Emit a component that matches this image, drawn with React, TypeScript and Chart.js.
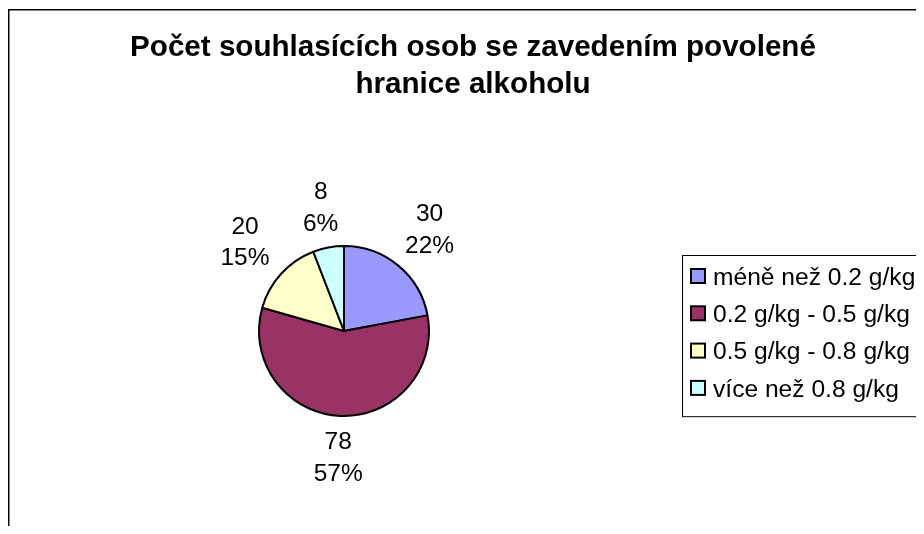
import React, { useEffect, useRef } from "react";
import { Chart, registerables } from "chart.js";

Chart.register(...registerables);

const categories = [
  "méně než 0.2 g/kg",
  "0.2 g/kg - 0.5 g/kg",
  "0.5 g/kg - 0.8 g/kg",
  "více než 0.8 g/kg",
];
const counts = [30, 78, 20, 8];
const sliceColors = ["#9999FF", "#993366", "#FFFFCC", "#CCFFFF"];
const titleLines = ["Počet souhlasících osob se zavedením povolené", "hranice alkoholu"];

const FONT = '"Liberation Sans", Arial, Helvetica, sans-serif';

function drawText(ctx: CanvasRenderingContext2D, text: string, x: number, y: number, font: string, sx: number, align: CanvasTextAlign) {
  ctx.save();
  ctx.font = font;
  ctx.translate(x, y);
  ctx.scale(sx, 1);
  ctx.textAlign = align;
  ctx.textBaseline = "alphabetic";
  ctx.fillText(text, 0, 0);
  ctx.restore();
}

const decorPlugin = {
  id: "decor",
  beforeDraw(chart: any) {
    const ctx: CanvasRenderingContext2D = chart.ctx;
    const w = chart.width;
    const h = chart.height;
    ctx.save();
    ctx.fillStyle = "#ffffff";
    ctx.fillRect(0, 0, w, h);
    // outer frame (left and top visible)
    ctx.strokeStyle = "#000";
    ctx.lineWidth = 1.5;
    ctx.beginPath();
    ctx.moveTo(0.75, h + 2);
    ctx.lineTo(0.75, 1.75);
    ctx.lineTo(w + 2, 1.75);
    ctx.stroke();
    // title
    ctx.fillStyle = "#000";
    titleLines.forEach((t, i) => drawText(ctx, t, 465, 48 + i * 36.7, `bold 29.6px ${FONT}`, 1, "center"));
    // legend
    const lx = 674.5;
    const ly = 247.5;
    const rowH = 37.3;
    ctx.lineWidth = 1;
    ctx.strokeStyle = "#000";
    ctx.strokeRect(lx, ly, w, 20 + rowH * categories.length - 8);
    categories.forEach((c, i) => {
      const cy = 268 + i * rowH;
      ctx.fillStyle = sliceColors[i];
      ctx.fillRect(683, cy - 7, 14, 14);
      ctx.lineWidth = 2;
      ctx.strokeStyle = "#000";
      ctx.strokeRect(683, cy - 7, 14, 14);
      ctx.fillStyle = "#000";
      drawText(ctx, c, 705, cy + 8.7, `24.6px ${FONT}`, 1, "left");
    });
    ctx.restore();
  },
  afterDatasetsDraw(chart: any) {
    const ctx: CanvasRenderingContext2D = chart.ctx;
    const meta = chart.getDatasetMeta(0);
    const data: number[] = chart.data.datasets[0].data;
    const total = data.reduce((a, b) => a + b, 0);
    const fs = 24.5;
    const lineH = 31.7;
    ctx.save();
    ctx.fillStyle = "#000";
    ctx.font = `${fs}px ${FONT}`;
    meta.data.forEach((arc: any, i: number) => {
      const { x, y, startAngle, endAngle, outerRadius } = arc.getProps(["x", "y", "startAngle", "endAngle", "outerRadius"], true);
      const mid = (startAngle + endAngle) / 2;
      const l1 = String(data[i]);
      const l2 = Math.round((data[i] / total) * 100) + "%";
      const tw = Math.max(ctx.measureText(l1).width, ctx.measureText(l2).width);
      const c = Math.cos(mid);
      const s = Math.sin(mid);
      const d = outerRadius + 14 + Math.abs(c) * tw / 2 + Math.abs(s) * 25;
      const cx = x + c * d;
      const cy = y + s * d;
      ctx.textAlign = "center";
      ctx.textBaseline = "alphabetic";
      ctx.fillText(l1, cx, cy - lineH / 2 + 8.8);
      ctx.fillText(l2, cx, cy + lineH / 2 + 8.8);
    });
    ctx.restore();
  },
};

export default function App() {
  const ref = useRef<HTMLCanvasElement | null>(null);
  useEffect(() => {
    if (!ref.current) return;
    const chart = new Chart(ref.current, {
      type: "pie",
      data: {
        labels: categories,
        datasets: [
          {
            data: counts,
            backgroundColor: sliceColors,
            borderColor: "#000000",
            borderWidth: 2,
            radius: 85,
          } as any,
        ],
      },
      options: {
        animation: false,
        responsive: true,
        maintainAspectRatio: false,
        layout: { padding: { left: 0, right: 244, top: 150, bottom: 22 } },
        plugins: {
          legend: { display: false },
          title: { display: false },
          tooltip: { enabled: false },
        },
      } as any,
      plugins: [decorPlugin],
    });
    return () => chart.destroy();
  }, []);
  return (
    <div style={{ position: "relative", width: 916, height: 518 }}>
      <canvas ref={ref} />
    </div>
  );
}
